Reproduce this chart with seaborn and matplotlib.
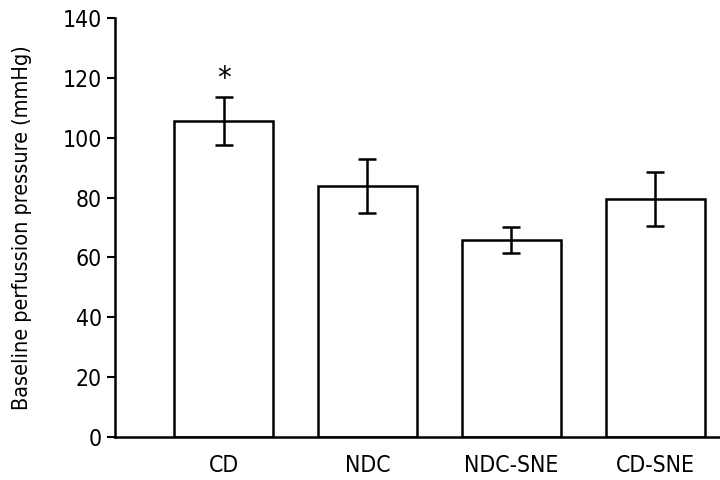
import pandas as pd
import matplotlib
matplotlib.use("Agg")
import matplotlib.pyplot as plt
import seaborn as sns

groups = ["CD", "NDC", "NDC-SNE", "CD-SNE"]
means = [105.5, 84.0, 65.8, 79.5]
errors = [8.0, 9.0, 4.3, 9.0]
marks = ["*", "", "", ""]

data = pd.DataFrame({"group": groups, "mean": means, "err": errors})

sns.set_style("ticks", {"axes.edgecolor": "black", "text.color": "black",
                        "xtick.color": "black", "ytick.color": "black",
                        "axes.labelcolor": "black"})
plt.rcParams["font.family"] = ["DejaVu Sans"]
plt.rcParams["font.stretch"] = "condensed"

fig = plt.figure(figsize=(7.2, 4.8), dpi=100)
ax = fig.add_axes([0.16, 0.0896, 0.84, 0.8729])

sns.barplot(x="group", y="mean", data=data, color="white", edgecolor="black",
            linewidth=1.8, width=0.69, ax=ax)
ax.errorbar(range(len(groups)), data["mean"], yerr=data["err"], fmt="none",
            ecolor="black", elinewidth=1.8, capsize=6.5, capthick=1.8)
for i, m in enumerate(marks):
    if m:
        ax.text(i, data["mean"][i] + data["err"][i] + 1.5, m, ha="center",
                va="bottom", fontsize=22)

ax.set_ylim(0, 140)
ax.set_xlim(-0.753, 3.45)
ax.set_yticks(range(0, 141, 20))
ax.set_xlabel("")
ax.set_ylabel("Baseline perfussion pressure (mmHg)", fontsize=15.5, labelpad=22)
ax.tick_params(axis="y", labelsize=16.5, width=1.5, length=6, direction="out")
ax.tick_params(axis="x", labelsize=16.5, length=0, pad=12)
for s in ["top", "right"]:
    ax.spines[s].set_visible(False)
ax.spines["left"].set_linewidth(1.8)
ax.spines["bottom"].set_linewidth(1.8)

fig.savefig("out.png", dpi=100)
